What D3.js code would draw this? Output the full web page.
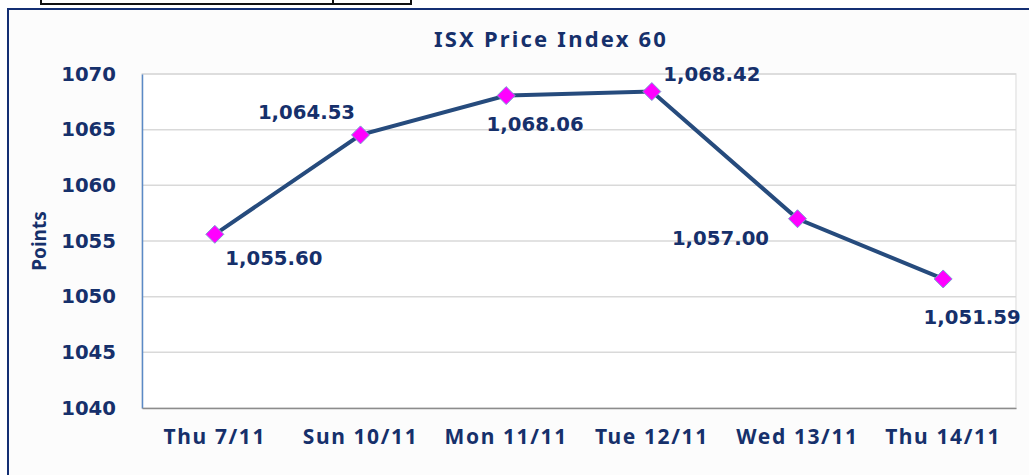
<!DOCTYPE html>
<html>
<head>
<meta charset="utf-8">
<script src="https://cdn.jsdelivr.net/npm/d3@7"></script>
<style>
  body { margin: 0; background: #ffffff; }
</style>
</head>
<body>
<div id="container"></div>
<script>

// chart values
var days = ["Thu 7/11", "Sun 10/11", "Mon 11/11", "Tue 12/11", "Wed 13/11", "Thu 14/11"];
var values = [1055.60, 1064.53, 1068.06, 1068.42, 1057.00, 1051.59];
var yTicks = [1040, 1045, 1050, 1055, 1060, 1065, 1070];

// where each data label sits relative to its point (dx of label centre, dy of baseline)
var labelOffsets = [[59, 31], [-54, -16], [29, 35], [60, -11], [-77, 26], [29, 45]];

var width = 1029, height = 475;
var plot = {left: 142, right: 1016, top: 74, bottom: 408};

var navy = "#16306b";
var labelFont = "'DejaVu Sans', Verdana, sans-serif";
var calFont = "'Noto Sans', 'Open Sans', sans-serif";

var svg = d3.select("#container").append("svg")
	.attr("width", width)
	.attr("height", height);

// chart background + frame
svg.append("rect")
	.attr("x", 8).attr("y", 9)
	.attr("width", width).attr("height", height)
	.style("fill", "#fcfcfc");
svg.append("path")
	.attr("d", "M8," + height + "V9H" + width)
	.style("fill", "none")
	.style("stroke", "#142f73")
	.style("stroke-width", 2);

// remnant of the table above the chart
svg.append("path")
	.attr("d", "M41,0V4H411V0M333,0V4")
	.style("fill", "none")
	.style("stroke", "#111")
	.style("stroke-width", 2);

// plot area
svg.append("rect")
	.attr("x", plot.left).attr("y", plot.top)
	.attr("width", plot.right - plot.left).attr("height", plot.bottom - plot.top)
	.style("fill", "#ffffff")
	.style("stroke", "#e6e6e6")
	.style("stroke-width", 1.5);

var x = d3.scaleBand().domain(days).range([plot.left, plot.right]);
var y = d3.scaleLinear().domain([1040, 1070]).range([plot.bottom, plot.top]);

// gridlines
svg.append("g")
	.selectAll("line")
	.data(yTicks.slice(1))
	.enter().append("line")
		.attr("x1", plot.left).attr("x2", plot.right)
		.attr("y1", function(d) { return y(d); })
		.attr("y2", function(d) { return y(d); })
		.style("stroke", "#d9d9d9")
		.style("stroke-width", 1.5);

// axes
var yAxis = d3.axisLeft(y).tickValues(yTicks).tickFormat(d3.format("d")).tickSize(0).tickPadding(26);
var gy = svg.append("g")
	.attr("transform", "translate(" + plot.left + ",0)")
	.call(yAxis);
gy.select(".domain").style("stroke", "#5b8ac6").style("stroke-width", 1.5);
gy.selectAll("text")
	.style("font-family", labelFont)
	.style("font-weight", "bold")
	.style("font-size", "19.7px")
	.style("fill", navy);

var xAxis = d3.axisBottom(x).tickSize(0).tickPadding(21);
var gx = svg.append("g")
	.attr("transform", "translate(0," + plot.bottom + ")")
	.call(xAxis);
gx.select(".domain").style("stroke", "#8c8c8c").style("stroke-width", 1.5);
gx.selectAll("text")
	.style("font-family", calFont)
	.style("font-weight", "bold")
	.style("font-size", "21px")
	.style("letter-spacing", "1.6px")
	.style("fill", navy);

// title and axis label
svg.append("text")
	.attr("x", 551).attr("y", 47)
	.style("text-anchor", "middle")
	.style("font-family", calFont)
	.style("font-weight", "bold")
	.style("font-size", "22px")
	.style("letter-spacing", "2.2px")
	.style("fill", navy)
	.text("ISX Price Index 60");

svg.append("text")
	.attr("transform", "translate(46,241) rotate(-90)")
	.style("text-anchor", "middle")
	.style("font-family", calFont)
	.style("font-weight", "bold")
	.style("font-size", "19px")
	.style("fill", navy)
	.text("Points");

// the line
var cx = function(d, i) { return x(days[i]) + x.bandwidth() / 2; };
var line = d3.line()
	.x(cx)
	.y(function(d) { return y(d); });

svg.append("path")
	.datum(values)
	.attr("d", line)
	.style("fill", "none")
	.style("stroke", "#264b7d")
	.style("stroke-width", 4);

// diamond markers
svg.selectAll(".dot")
	.data(values).enter()
	.append("path")
		.attr("class", "dot")
		.attr("d", "M0,-9L9,0L0,9L-9,0Z")
		.attr("transform", function(d, i) { return "translate(" + cx(d, i) + "," + y(d) + ")"; })
		.style("fill", "#ff00ff")
		.style("stroke", "#7a9fd4")
		.style("stroke-width", 1);

// data labels
var fmt = d3.format(",.2f");
svg.selectAll(".lbl")
	.data(values).enter()
	.append("text")
		.attr("class", "lbl")
		.attr("x", function(d, i) { return cx(d, i) + labelOffsets[i][0]; })
		.attr("y", function(d, i) { return y(d) + labelOffsets[i][1]; })
		.style("text-anchor", "middle")
		.style("font-family", labelFont)
		.style("font-weight", "bold")
		.style("font-size", "19.7px")
		.style("fill", navy)
		.text(function(d) { return fmt(d); });

</script>
</body>
</html>
